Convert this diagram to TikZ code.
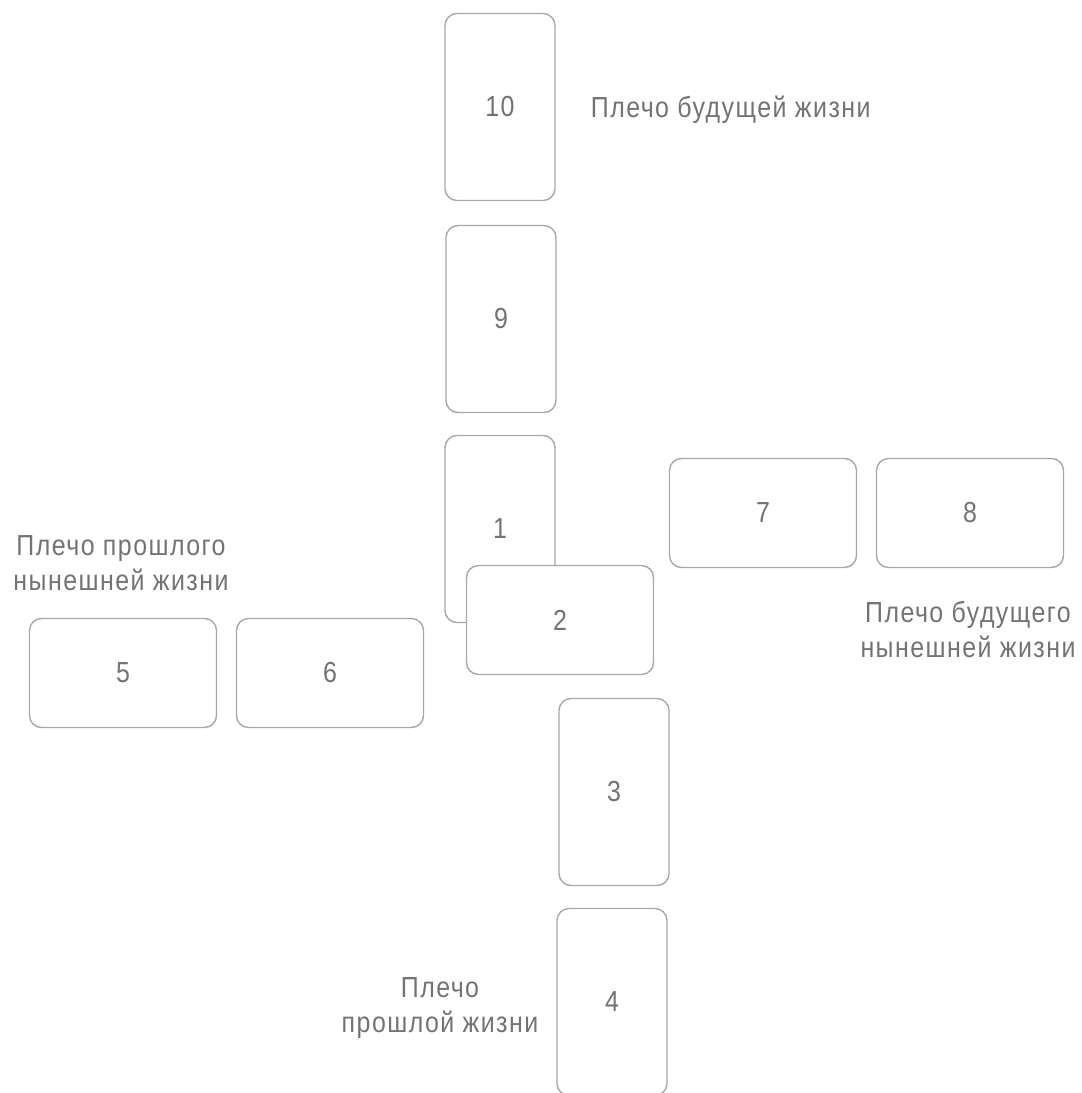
\documentclass[tikz,border=0pt]{standalone}
\usepackage{fontspec}
\setmainfont{Liberation Sans}[FakeStretch=0.86, LetterSpace=5]
\usetikzlibrary{positioning}
\definecolor{cardgray}{rgb}{0.66, 0.66, 0.66}
\definecolor{textgray}{rgb}{0.45, 0.45, 0.45}
\tikzset{card/.style = {draw = cardgray, fill = white, rounded corners = 12pt,
                        line width = 1.4pt, inner sep = 0,
                        minimum width = 110pt, minimum height = 187pt,
                        text = textgray, font = \fontsize{29}{35}\selectfont}}
\tikzset{cardh/.style = {card, minimum width = 187pt, minimum height = 109pt}}
\tikzset{arm/.style = {text = textgray, align = center, inner sep = 0,
                       font = \fontsize{29}{35}\selectfont}}

\begin{document}
\begin{tikzpicture}[x = 1pt, y = -1pt]
    \useasboundingbox (0, 0) rectangle (1082, 1093);
    \clip (0, 0) rectangle (1082, 1093);

    % vertical line of the cross
    \node [card] (c10) at (500, 107) {10};
    \node [card] (c9) at (501, 319) {9};
    \node [card] (c1) at (500, 529) {1};
    \node [cardh] (c2) at (560, 620) {2};
    \node [card] (c3) at (614, 792) {3};
    \node [card] (c4) at (612, 1002) {4};

    % side arms
    \node [cardh] (c5) at (123, 673) {5};
    \node [cardh] (c6) at (330, 673) {6};
    \node [cardh] (c7) at (763, 513) {7};
    \node [cardh] (c8) at (970, 513) {8};

    \node [arm, anchor = west, right = 35pt of c10, yshift = -3pt] (l10) {Плечо будущей жизни};
    \node [arm] (l5) at (121, 563) {Плечо прошлого\\нынешней жизни};
    \node [arm] (l8) at (968, 629) {Плечо будущего\\нынешней жизни};
    \node [arm] (l4) at (440, 1008) {Плечо\\прошлой жизни};
\end{tikzpicture}
\end{document}
